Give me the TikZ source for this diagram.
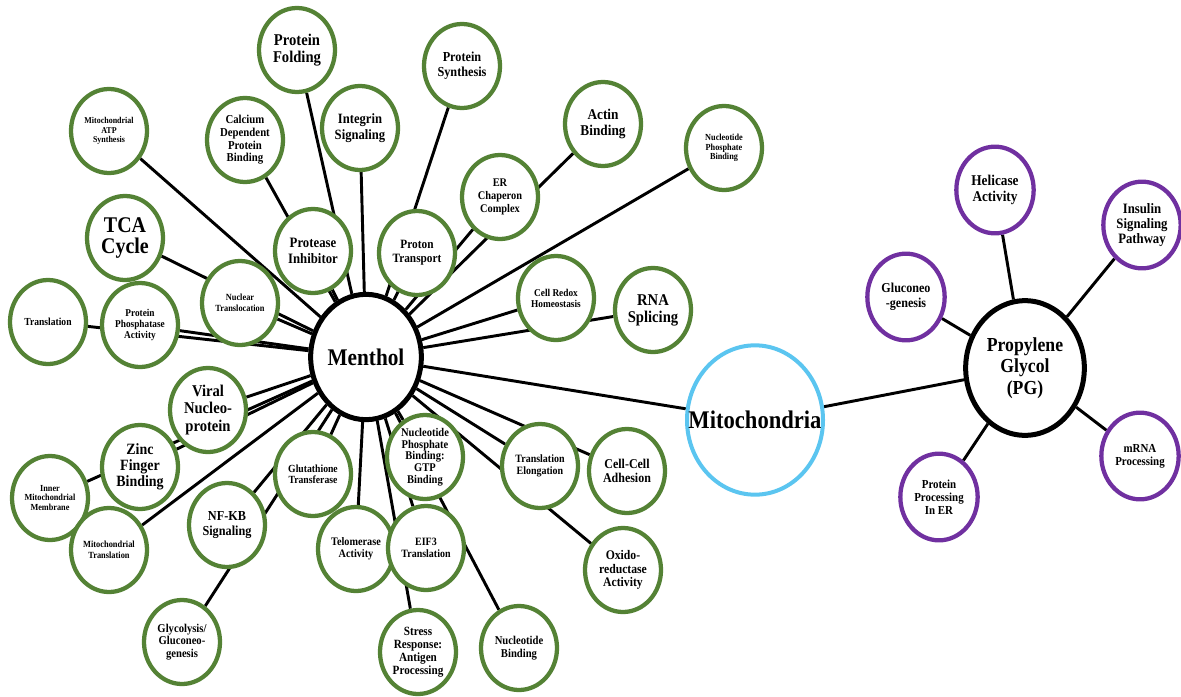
\documentclass[tikz,border=0pt]{standalone}
\usepackage{fontspec}
\setmainfont{Liberation Serif}[Scale=1.12, FakeStretch=0.89]
\usetikzlibrary{shapes.geometric,backgrounds,positioning}
\definecolor{gogreen}{RGB}{84,130,53}
\definecolor{pgpurple}{RGB}{112,48,160}
\definecolor{mitoblue}{RGB}{91,197,240}
\tikzset{
  hub/.style={ellipse, draw=black, line width=3.75pt, fill=white, inner sep=0pt, align=center},
  goterm/.style={ellipse, draw=gogreen, line width=3.2pt, fill=white, minimum width=57pt, minimum height=63pt, inner sep=0pt, align=center},
  pgterm/.style={goterm, draw=pgpurple, minimum width=58pt, minimum height=65pt},
  fsz/.style 2 args={font=\bfseries\fontsize{#1}{#2}\selectfont},
  link/.style={draw=black, line width=2.2pt}
}
\begin{document}
\begin{tikzpicture}[x=0.75pt, y=-0.75pt]
\useasboundingbox (0,0) rectangle (1181,696);

% the three hubs
\node[hub, minimum width=83pt, minimum height=94pt, fsz={16}{19}] (menthol) at (366,357) {Menthol};
\node[hub, draw=mitoblue, line width=3pt, minimum width=102pt, minimum height=112pt, fsz={17}{20}] (mitochondria) at (755,420) {\makebox[0pt]{Mitochondria}};
\node[hub, minimum width=89pt, minimum height=101pt, fsz={13.3}{16.3}] (prop_glycol) at (1025,368) {Propylene\\Glycol\\(PG)};

% menthol terms
\node[goterm, fsz={11}{12.5}] (protein_folding) at (297,50) {Protein\\Folding};
\node[goterm, fsz={6}{6.9}] (mito_atp) at (109,131) {Mitochondrial\\ATP\\Synthesis};
\node[goterm, fsz={8.1}{9.5}] (calcium_binding) at (245,140) {Calcium\\Dependent\\Protein\\Binding};
\node[goterm, fsz={9.5}{11.5}] (integrin) at (360,128) {Integrin\\Signaling};
\node[goterm, fsz={15}{16}] (tca_cycle) at (125,238) {TCA\\Cycle};
\node[goterm, fsz={9.6}{11.5}] (protease) at (313,251) {Protease\\Inhibitor};
\node[goterm, fsz={6.3}{8}] (nuclear_transl) at (240,303) {Nuclear\\Translocation};
\node[goterm, fsz={7.2}{8.5}] (translation) at (48,322) {Translation};
\node[goterm, fsz={7}{8.3}] (phosphatase) at (140,325) {Protein\\Phosphatase\\Activity};
\node[goterm, fsz={9.2}{11}] (protein_synth) at (462,66) {Protein\\Synthesis};
\node[goterm, fsz={10}{12}] (actin_binding) at (603,124) {Actin\\Binding};
\node[goterm, fsz={6.2}{7.2}] (nucl_phos) at (724,148) {Nucleotide\\Phosphate\\Binding};
\node[goterm, fsz={7.8}{9.5}] (er_chaperon) at (500,197) {ER\\Chaperon\\Complex};
\node[goterm, fsz={8.5}{10.5}] (proton) at (417,253) {Proton\\Transport};
\node[goterm, fsz={7}{8.3}] (cell_redox) at (556,298) {Cell Redox\\Homeostasis};
\node[goterm, fsz={11}{12.8}] (rna_splicing) at (653,310) {RNA\\Splicing};
\node[goterm, fsz={11}{13}] (viral) at (208,410) {Viral\\Nucleo-\\protein};
\node[goterm, fsz={6.2}{7.3}] (inner_membrane) at (50,498) {Inner\\Mitochondrial\\Membrane};
\node[goterm, fsz={6.3}{8}] (mito_transl) at (109,550) {Mitochondrial\\Translation};
\node[goterm, fsz={10.5}{11.8}] (zinc_finger) at (140,467) {Zinc\\Finger\\Binding};
\node[goterm, fsz={9.2}{11}] (nfkb) at (227,525) {NF-KB\\Signaling};
\node[goterm, fsz={7.3}{8.5}] (glutathione) at (313,474) {Glutathione\\Transferase};
\node[goterm, fsz={7.7}{9}] (telomerase) at (356,549) {Telomerase\\Activity};
\node[goterm, fsz={8}{9.5}] (glycolysis) at (182,642) {Glycolysis/\\Gluconeo-\\genesis};
\node[goterm, fsz={7.9}{8.8}] (gtp_binding) at (425,457) {Nucleotide\\Phosphate\\Binding:\\GTP\\Binding};
\node[goterm, fsz={7.5}{9}] (eif3) at (426,548) {EIF3\\Translation};
\node[goterm, fsz={8.4}{9.8}] (stress) at (418,652) {Stress\\Response:\\Antigen\\Processing};
\node[goterm, fsz={8}{9.5}] (nucl_binding) at (519,648) {Nucleotide\\Binding};
\node[goterm, fsz={7.5}{9}] (elongation) at (540,466) {Translation\\Elongation};
\node[goterm, fsz={9}{11}] (cell_adhesion) at (627,471) {Cell-Cell\\Adhesion};
\node[goterm, fsz={8.8}{10.3}] (oxido) at (623,570) {Oxido-\\reductase\\Activity};

% propylene glycol terms
\node[pgterm, fsz={10}{12}] (helicase) at (995,190) {Helicase\\Activity};
\node[pgterm, fsz={9.6}{11.3}] (insulin) at (1142,225) {Insulin\\Signaling\\Pathway};
\node[pgterm, fsz={9.1}{11}] (gluconeo) at (906,297) {Gluconeo\\-genesis};
\node[pgterm, fsz={8.2}{9.8}] (mrna) at (1140,456) {mRNA\\Processing};
\node[pgterm, fsz={8.2}{9.8}] (er_processing) at (939,497) {Protein\\Processing\\In ER};

\begin{scope}[on background layer]
\path[link] (menthol) edge (protein_folding);
\path[link] (menthol) edge (mito_atp);
\path[link] (menthol) edge (calcium_binding);
\path[link] (menthol) edge (integrin);
\path[link] (menthol) edge (tca_cycle);
\path[link] (menthol) edge (protease);
\path[link] (menthol) edge (nuclear_transl);
\path[link] (menthol) edge (translation);
\path[link] (menthol) edge (phosphatase);
\path[link] (menthol) edge (protein_synth);
\path[link] (menthol) edge (actin_binding);
\path[link] (menthol) edge (nucl_phos);
\path[link] (menthol) edge (er_chaperon);
\path[link] (menthol) edge (proton);
\path[link] (menthol) edge (cell_redox);
\path[link] (menthol) edge (rna_splicing);
\path[link] (menthol) edge (viral);
\path[link] (menthol) edge (inner_membrane);
\path[link] (menthol) edge (mito_transl);
\path[link] (menthol) edge (zinc_finger);
\path[link] (menthol) edge (nfkb);
\path[link] (menthol) edge (glutathione);
\path[link] (menthol) edge (telomerase);
\path[link] (menthol) edge (glycolysis);
\path[link] (menthol) edge (gtp_binding);
\path[link] (menthol) edge (eif3);
\path[link] (menthol) edge (stress);
\path[link] (menthol) edge (nucl_binding);
\path[link] (menthol) edge (elongation);
\path[link] (menthol) edge (cell_adhesion);
\path[link] (menthol) edge (oxido);
\path[link] (menthol) edge (mitochondria);
\path[link] (mitochondria) edge (prop_glycol);
\path[link] (prop_glycol) edge (helicase);
\path[link] (prop_glycol) edge (insulin);
\path[link] (prop_glycol) edge (gluconeo);
\path[link] (prop_glycol) edge (mrna);
\path[link] (prop_glycol) edge (er_processing);
\end{scope}
\end{tikzpicture}
\end{document}
